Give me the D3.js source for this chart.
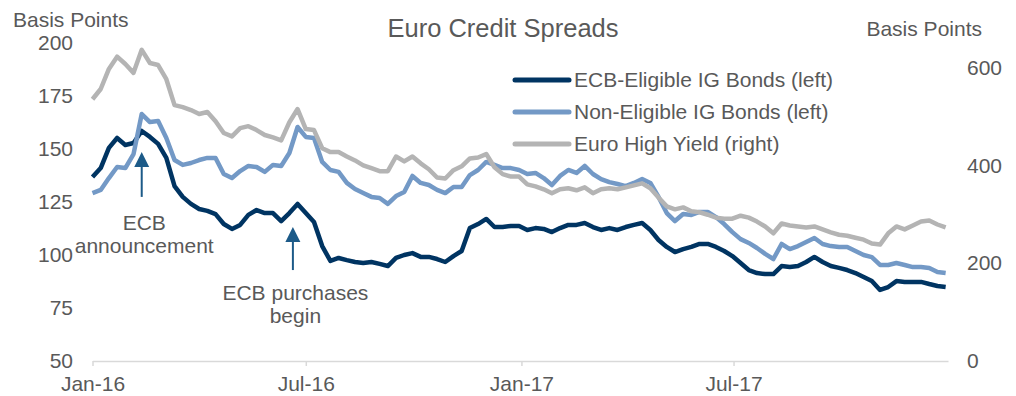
<!DOCTYPE html>
<html>
<head>
<meta charset="utf-8">
<script src="https://cdn.jsdelivr.net/npm/d3@7"></script>
<style>
  body { margin: 0; background: #fff; }
  svg text { font-family: "Liberation Sans", Arial, sans-serif; fill: #595959; }
</style>
</head>
<body>
<script>
// weekly observations, first one on 1 Jan 2016
const startDate = new Date(2016, 0, 1);
const weeks = 105;

const seriesNames = ["ECB-Eligible IG Bonds (left)", "Non-Eligible IG Bonds (left)", "Euro High Yield (right)"];
const seriesColors = ["#003462", "#7399c6", "#b4b4b4"];

const eligible = [
  136.8,141,150.5,155.2,151.9,152.8,158.5,155.7,152.4,145.8,
  132.5,127.4,124.1,121.7,120.8,119.3,114.6,112.3,114.2,118.9,
  121.2,119.8,119.8,116,119.8,124.1,119.8,115.6,104.2,97.2,
  98.6,97.6,96.7,96.2,96.7,95.8,94.8,98.6,100,100.9,
  99.1,99.1,98.1,96.7,99.5,101.9,112.7,114.6,117,113.2,
  113.2,113.7,113.7,111.8,112.7,112.3,110.8,112.7,114.2,114.2,
  115.1,113.2,111.8,112.7,111.8,113.2,114.2,115.1,111.8,107.1,
  103.8,101.4,102.8,103.8,105.2,105.2,103.8,101.9,99.5,96.2,
  92.9,91.5,91,91,94.8,94.3,94.8,96.7,99.1,96.7,
  94.8,93.9,92.9,91.5,89.6,87.7,83.5,84.9,87.7,87.3,
  87.3,87.3,86.3,85.4,84.9
];
const nonEligible = [
  129.2,130.7,136.3,141.5,141,147.6,166.5,162.7,163.2,155.2,
  144.8,142.5,143.4,144.8,145.8,145.8,138.2,136.3,139.6,142,
  141.5,139.2,142.5,142,148.1,160.4,155.7,155.2,143.9,140.1,
  139.2,134,131.1,129.2,127.4,126.9,124.1,127.8,129.7,137.3,
  134,133,130.7,129.2,132.1,132.1,137.7,140.1,143.9,142.5,
  141,141,140.1,138.2,138.7,136.3,133,137.3,140.1,138.7,
  142,138.2,135.8,134.4,133.5,132.5,134,135.8,134,127.4,
  119.8,116,119.3,118.9,120.3,120.3,117.9,114.6,110.8,107.5,
  105.7,103.3,100.5,98.1,105.2,102.8,104.2,106.1,108,105.2,
  104.2,103.8,103.8,101.9,100,99,95.3,95.3,96.2,95.3,
  94.3,94.3,93.9,92,91.5
];
const highYield = [
  535,556,597,622,607,589,636,609,605,576,
  523,519,513,505,509,490,466,459,476,480,
  472,462,457,451,488,515,474,472,435,427,
  427,418,410,400,394,388,388,418,408,418,
  404,392,375,373,390,398,414,416,423,396,
  382,377,377,361,357,351,343,351,353,349,
  355,343,351,353,351,355,359,363,353,334,
  316,310,314,306,304,299,293,291,291,297,
  293,285,275,261,281,277,275,273,275,269,
  263,258,256,252,248,240,238,261,275,269,
  277,285,287,279,273
];

const leftTicks = [50, 75, 100, 125, 150, 175, 200];
const rightTicks = [0, 200, 400, 600];
const xTicks = [new Date(2016, 0, 1), new Date(2016, 6, 1), new Date(2017, 0, 1), new Date(2017, 6, 1)];

// annotations: date, arrow tip / tail (left axis units), text lines
const notes = [
  {date: new Date(2016, 1, 12), tip: 148.6, tail: 127.4, lines: ["ECB", "announcement"], textAt: 111.8},
  {date: new Date(2016, 5, 20), tip: 113.2, tail: 92.9, lines: ["ECB purchases", "begin"], textAt: 78.8}
];

const W = 1016, H = 396;
const margin = {left: 92.5, right: 948, top: 43, bottom: 361};

const svg = d3.select("body").append("svg")
  .attr("width", W).attr("height", H);

const dates = d3.range(weeks).map(i => d3.timeDay.offset(startDate, 7 * i));

const x = d3.scaleTime()
  .domain([new Date(2016, 0, 1), new Date(2017, 11, 31)])
  .range([margin.left, margin.right]);
const yL = d3.scaleLinear().domain([50, 200]).range([margin.bottom, margin.top]);
const yR = d3.scaleLinear().domain([0, 650]).range([margin.bottom, margin.top]);

// x axis
const xAxis = svg.append("g")
  .attr("transform", "translate(0," + margin.bottom + ")")
  .call(d3.axisBottom(x).tickValues(xTicks).tickFormat(d3.timeFormat("%b-%y")).tickSize(5).tickPadding(10).tickSizeOuter(0));
xAxis.select(".domain").attr("stroke", "#d9d9d9").attr("stroke-width", 1.5);
xAxis.selectAll(".tick line").attr("stroke", "#d9d9d9").attr("stroke-width", 1.5);
xAxis.selectAll("text").attr("font-size", 21).attr("fill", "#595959");

// left axis
const yAxisL = svg.append("g")
  .attr("transform", "translate(" + margin.left + ",0)")
  .call(d3.axisLeft(yL).tickValues(leftTicks).tickSize(0).tickPadding(19.5));
yAxisL.select(".domain").remove();
yAxisL.selectAll("text").attr("font-size", 21).attr("fill", "#595959");

// right axis
const yAxisR = svg.append("g")
  .attr("transform", "translate(" + margin.right + ",0)")
  .call(d3.axisRight(yR).tickValues(rightTicks).tickSize(0).tickPadding(19));
yAxisR.select(".domain").remove();
yAxisR.selectAll("text").attr("font-size", 21).attr("fill", "#595959");

// axis titles + chart title
svg.append("text").attr("x", 13).attr("y", 27).attr("font-size", 21).text("Basis Points");
svg.append("text").attr("x", 982).attr("y", 36).attr("font-size", 21)
  .attr("text-anchor", "end").text("Basis Points");
svg.append("text").attr("x", 503).attr("y", 37).attr("font-size", 25.5)
  .attr("text-anchor", "middle").text("Euro Credit Spreads");

// lines
const lineL = d3.line().x((d, i) => x(dates[i])).y(d => yL(d));
const lineR = d3.line().x((d, i) => x(dates[i])).y(d => yR(d));

const plotted = [
  {vals: eligible, gen: lineL, color: seriesColors[0]},
  {vals: nonEligible, gen: lineL, color: seriesColors[1]},
  {vals: highYield, gen: lineR, color: seriesColors[2]}
];
plotted.forEach(s => {
  svg.append("path")
    .attr("d", s.gen(s.vals))
    .attr("fill", "none")
    .attr("stroke", s.color)
    .attr("stroke-width", 4.5)
    .attr("stroke-linejoin", "round");
});

// legend
const legend = svg.append("g").attr("transform", "translate(515,80)");
seriesNames.forEach((name, i) => {
  legend.append("line")
    .attr("x1", 0).attr("x2", 54)
    .attr("y1", i * 32).attr("y2", i * 32)
    .attr("stroke", seriesColors[i]).attr("stroke-width", 5)
    .attr("stroke-linecap", "round");
  legend.append("text")
    .attr("x", 59).attr("y", i * 32).attr("dy", "0.35em")
    .attr("font-size", 21).text(name);
});

// annotations
const arrowColor = "#1c5a88";
notes.forEach(n => {
  const ax = x(n.date);
  const tipY = yL(n.tip), tailY = yL(n.tail);
  svg.append("line")
    .attr("x1", ax).attr("x2", ax)
    .attr("y1", tipY + 12).attr("y2", tailY)
    .attr("stroke", arrowColor).attr("stroke-width", 2);
  svg.append("path")
    .attr("d", "M" + ax + "," + tipY + "L" + (ax + 7.5) + "," + (tipY + 15) + "L" + (ax - 7.5) + "," + (tipY + 15) + "Z")
    .attr("fill", arrowColor);
  n.lines.forEach((t, j) => {
    svg.append("text")
      .attr("x", ax + 2.5).attr("y", yL(n.textAt) + j * 23)
      .attr("font-size", 21).attr("text-anchor", "middle").text(t);
  });
});
</script>
</body>
</html>
